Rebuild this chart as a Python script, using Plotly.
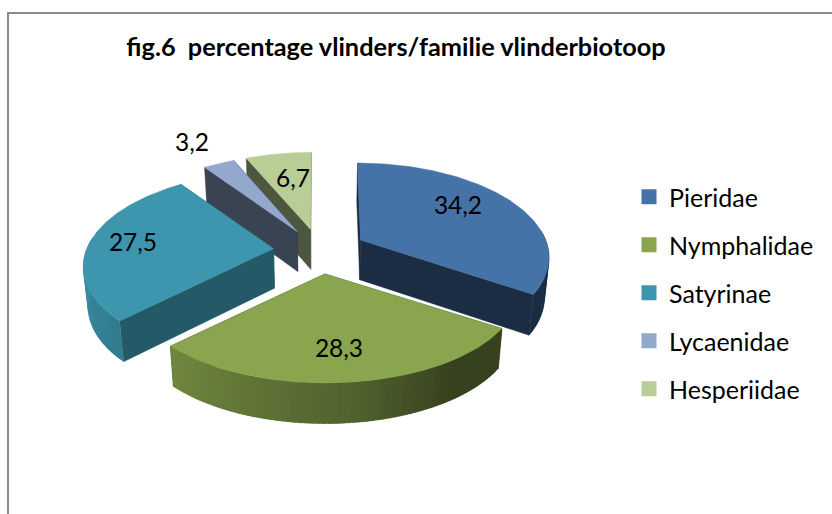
import math
import plotly.graph_objects as go

# ---- data ----
categories = ["Pieridae", "Nymphalidae", "Satyrinae", "Lycaenidae", "Hesperiidae"]
values = [34.2, 28.3, 27.5, 3.2, 6.7]
title_text = "fig.6  percentage vlinders/familie vlinderbiotoop"
top_colors = ["#4572A7", "#89A54E", "#3D96AE", "#92A8CD", "#B9CD96"]
wall_shade = [0.40, 0.40, 0.60, 0.40, 0.42]
label_x = [458, 339, 133, 192, 293]
label_y = [207.5, 350.5, 245, 145, 181]

# ---- 3D pie projection parameters ----
CX, CY = 320.0, 250.5
RX, RY = 187.0, 90.2
PERSP = 0.172
EXPLODE = 0.25
DEPTH = 39.5
BOTTOM_SCALE = 0.98
FONT = "Lato"

SHADE_T = [0, 90, 145, 174, 225, 270, 360]
SHADE_V = [0.40, 0.40, 0.40, 0.60, 0.82, 0.97, 0.97]


def shade_at(theta):
    theta %= 360
    for i in range(len(SHADE_T) - 1):
        if SHADE_T[i] <= theta <= SHADE_T[i + 1]:
            f = (theta - SHADE_T[i]) / (SHADE_T[i + 1] - SHADE_T[i])
            return SHADE_V[i] + f * (SHADE_V[i + 1] - SHADE_V[i])
    return 0.4


def scaled(hex_color, k):
    r, g, b = (int(hex_color[i:i + 2], 16) for i in (1, 3, 5))
    return "rgb(%d,%d,%d)" % (r * k, g * k, b * k)


def project(oa, oc, a, c, bottom=False):
    """Exploded wedge: x converges partly with the full position, y is relative to the apex."""
    so = 1.0 / (1.0 + PERSP * oc)
    ay = -RY * oc * so
    s = 1.0 / (1.0 + PERSP * c)
    sx = 1.0 / (1.0 + PERSP * (c + 0.5 * oc))
    x = RX * (oa * (so + sx) / 2 + a * sx)
    y = ay - RY * c * s
    if bottom:
        return CX + x * BOTTOM_SCALE, CY + y * BOTTOM_SCALE + DEPTH * s ** 0.5
    return CX + x, CY + y


def polygon(points, color, lw=0.5):
    return go.Scatter(
        x=[p[0] for p in points] + [points[0][0]],
        y=[p[1] for p in points] + [points[0][1]],
        mode="lines", fill="toself", fillcolor=color,
        line=dict(color=color, width=lw),
        hoverinfo="skip", showlegend=False,
    )


total = sum(values)
starts, cursor = [], 0.0
for v in values:
    starts.append(cursor)
    cursor += v / total * 360.0
wedges = [(starts[i], starts[i] + values[i] / total * 360.0) for i in range(len(values))]


def wedge_traces(i):
    t0, t1 = wedges[i]
    mid = math.radians((t0 + t1) / 2)
    oa, oc = EXPLODE * math.sin(mid), EXPLODE * math.cos(mid)
    color = top_colors[i]

    def rim(theta):
        r = math.radians(theta)
        return math.sin(r), math.cos(r)

    def pr(a, c, bottom=False):
        return project(oa, oc, a, c, bottom)

    out = []
    # radial walls
    for t in (t0, t1):
        ra, rc = rim(t)
        out.append(polygon([pr(0, 0), pr(ra, rc), pr(ra, rc, True), pr(0, 0, True)],
                           scaled(color, wall_shade[i])))
    # curved outer wall: only the strips that face the viewer; strips overlap to hide seams
    steps = max(4, int((t1 - t0) / 1.5))
    dt = (t1 - t0) / steps
    for k in range(steps):
        a0 = t0 + dt * k
        a1 = min(t1, a0 + dt * 1.8)
        if math.cos(math.radians(a0 + dt / 2)) > 0.1:
            continue
        p0, p1 = rim(a0), rim(a1)
        out.append(polygon([pr(*p0), pr(*p1), pr(*p1, True), pr(*p0, True)],
                           scaled(color, shade_at(a0 + dt / 2)), lw=0.2))
    # top face
    face = [pr(0, 0)]
    for k in range(steps * 2 + 1):
        face.append(pr(*rim(t0 + (t1 - t0) * k / (steps * 2))))
    out.append(polygon(face, color))
    return out


fig = go.Figure()
for i in [4, 3, 2, 0, 1]:  # painter's order, back to front
    for tr in wedge_traces(i):
        fig.add_trace(tr)

fig.add_trace(go.Scatter(
    x=label_x, y=label_y, mode="text",
    text=[str(v).replace(".", ",") for v in values],
    textposition="middle center",
    textfont=dict(family=FONT, size=24.5, color="#000000"),
    hoverinfo="skip", showlegend=False,
))

for i, name in enumerate(categories):
    fig.add_trace(go.Scatter(
        x=[None], y=[None], mode="markers", name=name, legendgroup=name,
        marker=dict(symbol="square", size=15, color=top_colors[i]),
    ))

fig.add_shape(type="rect", xref="x", yref="y", x0=8, y0=13, x1=850, y1=540,
              line=dict(color="#8a8a8a", width=2), layer="below")

fig.update_layout(
    width=832, height=514, margin=dict(l=0, r=0, t=0, b=0),
    paper_bgcolor="white", plot_bgcolor="white",
    xaxis=dict(range=[0, 832], visible=False, fixedrange=True),
    yaxis=dict(range=[514, 0], visible=False, fixedrange=True),
    title=dict(text="<b>%s</b>" % title_text, x=396 / 832, y=1 - 47.5 / 514,
               xanchor="center", yanchor="middle",
               font=dict(family=FONT, size=25.3, color="#000000")),
    legend=dict(x=629 / 832, y=1 - 174 / 514, xanchor="left", yanchor="top",
                bgcolor="rgba(0,0,0,0)", tracegroupgap=12.5,
                font=dict(family=FONT, size=25, color="#000000"),
                itemsizing="trace", itemwidth=30),
)
fig.write_html("out.html", config=dict(displayModeBar=False),
               post_script="document.body.style.margin='0';")
